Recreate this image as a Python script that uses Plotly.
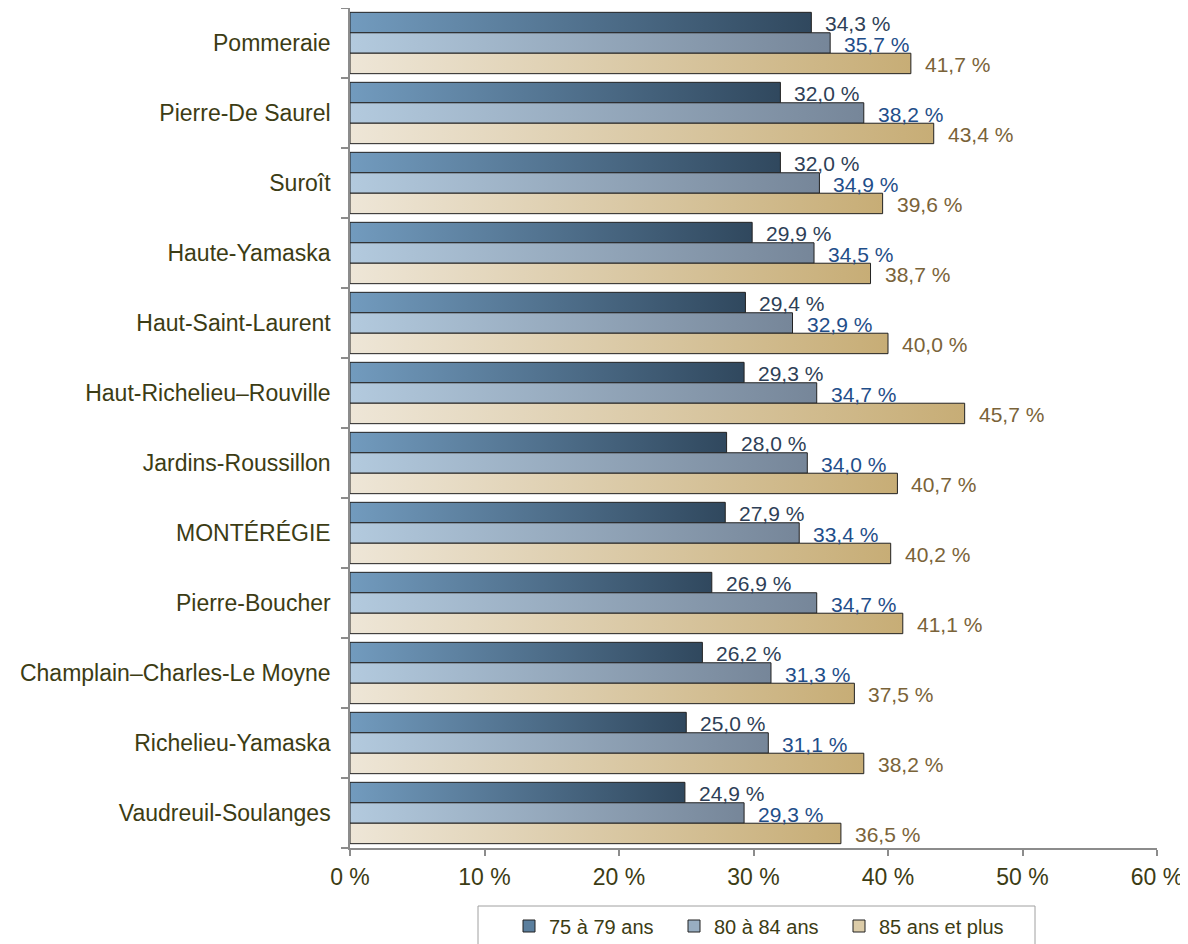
import plotly.graph_objects as go

categories = ["Pommeraie", "Pierre-De Saurel", "Suroît", "Haute-Yamaska",
              "Haut-Saint-Laurent", "Haut-Richelieu–Rouville", "Jardins-Roussillon",
              "MONTÉRÉGIE", "Pierre-Boucher", "Champlain–Charles-Le Moyne",
              "Richelieu-Yamaska", "Vaudreuil-Soulanges"]
v75_79 = [34.3, 32.0, 32.0, 29.9, 29.4, 29.3, 28.0, 27.9, 26.9, 26.2, 25.0, 24.9]
v80_84 = [35.7, 38.2, 34.9, 34.5, 32.9, 34.7, 34.0, 33.4, 34.7, 31.3, 31.1, 29.3]
v85_plus = [41.7, 43.4, 39.6, 38.7, 40.0, 45.7, 40.7, 40.2, 41.1, 37.5, 38.2, 36.5]
series_names = ["75 à 79 ans", "80 à 84 ans", "85 ans et plus"]
x_ticks = [0, 10, 20, 30, 40, 50, 60]

series_values = [v75_79, v80_84, v85_plus]
grad = [("#729BBE", "#30485E"), ("#B3CADE", "#768699"), ("#EEE6D7", "#C7AD76")]
legend_col = ["#5B7F9E", "#98AEC2", "#DCCCA8"]
label_col = ["#2E3F57", "#1F4E89", "#7A6339"]
text_col = "#3C3C14"
FONT = "Liberation Sans, Arial, sans-serif"

# plot area in page pixels (the figure div sits 8 px from the page corner)
PL, PR, PT, PB = 350, 1157, 8, 848


def px_x(p):
    return (p - PL) / (PR - PL)


def px_y(p):
    return (PB - p) / (PB - PT)


bar_h = 0.292
fig = go.Figure()
annotations = []
for j, (name, vals) in enumerate(zip(series_names, series_values)):
    for i, v in enumerate(vals):
        c = i + (j - 1) * bar_h
        y0, y1 = c - bar_h / 2, c + bar_h / 2
        fig.add_trace(go.Scatter(
            x=[0, v, v, 0, 0], y=[y0, y0, y1, y1, y0],
            mode="lines", fill="toself",
            fillgradient=dict(type="horizontal", start=0, stop=v,
                              colorscale=[[0, grad[j][0]], [1, grad[j][1]]]),
            line=dict(color="#222222", width=1),
            showlegend=False, hoverinfo="skip"))
        annotations.append(dict(
            x=v, y=c, xref="x", yref="y", xanchor="left", yanchor="middle",
            text=f"{v:.1f}".replace(".", ",") + " %", showarrow=False,
            xshift=12, yshift=-1,
            font=dict(family=FONT, size=21, color=label_col[j])))

for j, name in enumerate(series_names):
    fig.add_trace(go.Bar(
        x=[None], y=[None], orientation="h", name=name,
        marker=dict(color=legend_col[j], line=dict(color="#222222", width=1))))

# legend frame
fig.add_shape(type="rect", xref="paper", yref="paper",
              x0=px_x(478), x1=px_x(1035), y0=px_y(975), y1=px_y(906),
              line=dict(color="#A0A0A0", width=1), fillcolor="rgba(0,0,0,0)")

fig.update_layout(
    width=1180, height=936,
    margin=dict(l=342, r=31, t=0, b=96, autoexpand=False),
    paper_bgcolor="white", plot_bgcolor="white",
    annotations=annotations,
    showlegend=True,
    legend=dict(orientation="h", x=px_x(509), xanchor="left",
                y=px_y(926), yanchor="middle",
                font=dict(family=FONT, size=20, color=text_col),
                entrywidth=120, entrywidthmode="pixels",
                bgcolor="rgba(0,0,0,0)", borderwidth=0),
    xaxis=dict(range=[0, 60], tickvals=x_ticks,
               ticktext=[f"{t} %" for t in x_ticks],
               showgrid=False, zeroline=False, showline=True,
               linecolor="#8C8C8C", linewidth=1.5,
               ticks="outside", ticklen=6, tickcolor="#8C8C8C", tickwidth=1.5,
               ticklabelstandoff=2,
               tickfont=dict(family=FONT, size=23, color=text_col)),
    yaxis=dict(range=[len(categories) - 0.5, -0.5],
               tickvals=list(range(len(categories))), ticktext=categories,
               showgrid=False, zeroline=False, showline=True,
               linecolor="#8C8C8C", linewidth=1.5, ticks="",
               ticklabelstandoff=13,
               minor=dict(ticks="outside", ticklen=7, tickcolor="#8C8C8C",
                          tickwidth=1.5, tick0=-0.5, dtick=1, showgrid=False),
               tickfont=dict(family=FONT, size=23, color=text_col)),
)

fig.write_html("out.html")
